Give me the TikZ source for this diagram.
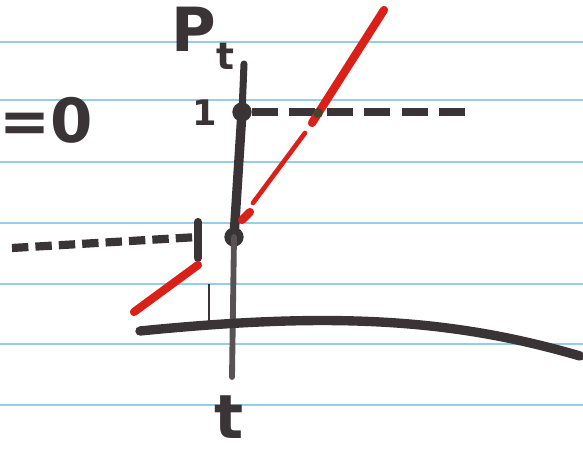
\documentclass[tikz,border=0pt]{standalone}
\usepackage{xcolor}
\usepackage{fontspec}
\setmainfont{DejaVu Sans}
\usetikzlibrary{arrows.meta,positioning}
\definecolor{ink}{RGB}{58,52,55}
\definecolor{redink}{RGB}{218,32,24}
\definecolor{ruleblue}{RGB}{150,205,235}
\tikzset{
  rule/.style={
    draw=ruleblue,
    line width=1.6pt
  },
  dot/.style={
    circle,
    fill=ink,
    inner sep=0pt,
    minimum size=0.58cm
  },
  axisline/.style={draw=ink, line width=8pt, line cap=round},
  axisthin/.style={draw=ink!85, line width=5pt, line cap=round},
  dashink/.style={draw=ink, line width=7pt, dash pattern=on 22pt off 10pt},
  dotink/.style={draw=ink, line width=7pt, dash pattern=on 14pt off 6pt},
  curveink/.style={draw=ink, line width=8pt, line cap=round},
  redthick/.style={draw=redink, line width=7pt, line cap=round},
  redthin/.style={draw=redink, line width=4pt, line cap=round},
  lbl/.style={
    text=ink,
    inner sep=0pt,
    font=\fontsize{52}{52}\selectfont\bfseries
  },
  small lbl/.style={
    text=ink,
    inner sep=0pt,
    font=\fontsize{30}{30}\selectfont\bfseries
  }
}
\begin{document}
\begin{tikzpicture}[x=0.03cm,y=-0.03cm]
  \useasboundingbox (0,0) rectangle (583,453);

  \foreach \y in {42,100,162,223,284,344,405}
    \draw[rule] (0,\y) -- (583,\y);

  \node[lbl] (ptlbl) at (203,38) {P\raisebox{-0.3em}{\fontsize{32}{32}\selectfont t}};
  \node[lbl] (tlbl) at (229,417) {t};
  \node[small lbl] (onelbl) at (205,113) {1};
  \node[lbl, anchor=east] (eqzero) at (93,120) {=0};

  \coordinate (axtop) at (244,64);
  \coordinate (axbot) at (232,377);
  \node[dot] (hi) at (242,112) {};
  \node[dot] (lo) at (234,237) {};

  \draw[axisline, line width=6pt] (axtop) -- (hi.center);
  \draw[axisline] (hi.center) -- (lo.center);
  \draw[axisthin] (lo.center) -- (axbot);

  \coordinate (hiend) at (476,112);
  \draw[dashink] (hi.east) -- (hiend);

  \coordinate (loend) at (12,248);
  \coordinate (tickup) at (198,222);
  \coordinate (tickdown) at (198,258);
  \coordinate (droptop) at (209,284);
  \coordinate (dropbot) at (209,328);
  \draw[dotink] (loend) -- (tickup |- lo);
  \draw[axisline, line width=7pt] (tickup) -- (tickdown);
  \draw[ink, line width=2.5pt] (droptop) -- (dropbot);

  \coordinate (cstart) at (140,331);
  \coordinate (cend) at (580,356);
  \draw[curveink] (cstart) .. controls (330,312) and (450,318) .. (cend);

  \coordinate (r1) at (134,312);
  \coordinate (r2) at (198,265);
  \coordinate (r3) at (242,220);
  \coordinate (r4) at (250,212);
  \coordinate (r5) at (253,203);
  \coordinate (r6) at (305,133);
  \coordinate (r7) at (312,123);
  \coordinate (r8) at (384,10);
  \draw[redthick] (r1) -- (r2);
  \draw[redthick] (r3) -- (r4);
  \draw[redthin] (r5) -- (r6);
  \draw[redthick] (r7) -- (r8);
  \node[circle, fill=ink!80!olive, inner sep=0pt, minimum size=0.3cm] (cross) at (318,113) {};
\end{tikzpicture}
\end{document}
